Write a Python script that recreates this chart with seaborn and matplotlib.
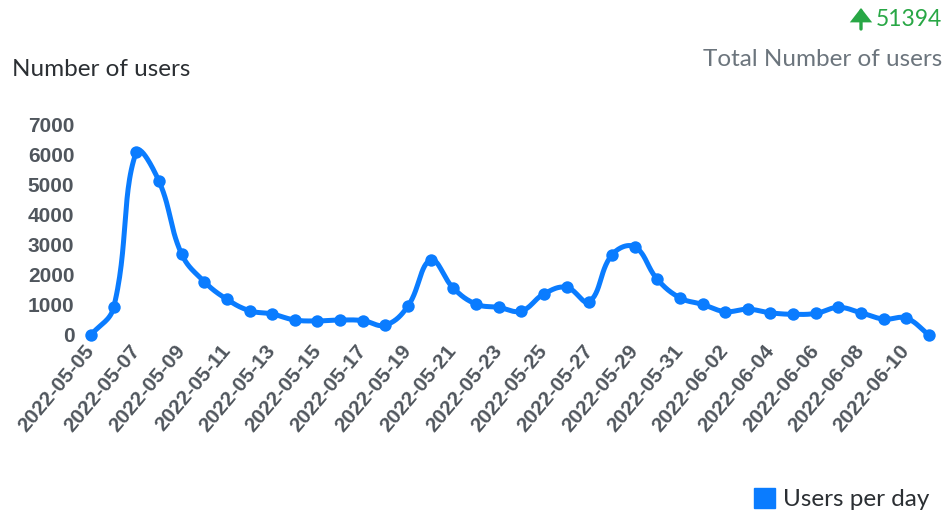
import numpy as np
import pandas as pd
import matplotlib
matplotlib.use("Agg")
import matplotlib.pyplot as plt
from matplotlib.patches import Patch, FancyArrowPatch
import seaborn as sns

# ---- data ----
dates = pd.date_range("2022-05-05", "2022-06-11", freq="D").strftime("%Y-%m-%d").tolist()
users = [0, 920, 6100, 5130, 2700, 1780, 1190, 810, 700, 500,
         470, 500, 480, 330, 970, 2500, 1560, 1030, 920, 800,
         1370, 1590, 1110, 2670, 2940, 1860, 1240, 1020, 780, 860,
         740, 690, 720, 920, 740, 530, 560, 0]
total_users = "51394"
title_left = "Number of users"
title_right = "Total Number of users"
legend_label = "Users per day"
y_ticks = [0, 1000, 2000, 3000, 4000, 5000, 6000, 7000]

LINE = "#0a7cff"
TICK = "#50565d"
GREEN = "#28a745"

sns.set_theme(style="white")
plt.rcParams["font.family"] = ["Liberation Sans", "DejaVu Sans"]

W, H = 946, 517
fig = plt.figure(figsize=(W / 100, H / 100), dpi=100)
left, right, top, bottom = 91, 929, 125, 335
ax = fig.add_axes([left / W, 1 - bottom / H, (right - left) / W, (bottom - top) / H])

x = np.arange(len(users), dtype=float)
y = np.array(users, dtype=float)
ax.set_xlim(0, len(users) - 1)
ax.set_ylim(0, 7000)

# Chart.js-like bezier smoothing (tension 0.4), computed in pixel space
sx = (right - left) / (len(users) - 1)
sy = (bottom - top) / 7000.0
px, py = x * sx, y * sy
n = len(px)
cpp = np.zeros((n, 2)); cpn = np.zeros((n, 2))
t = 0.4
for i in range(n):
    p0 = np.array([px[max(i - 1, 0)], py[max(i - 1, 0)]])
    p1 = np.array([px[i], py[i]])
    p2 = np.array([px[min(i + 1, n - 1)], py[min(i + 1, n - 1)]])
    d01 = np.hypot(*(p1 - p0)); d12 = np.hypot(*(p2 - p1))
    tot = d01 + d12
    s01 = d01 / tot if tot else 0
    s12 = d12 / tot if tot else 0
    cpp[i] = p1 - t * s01 * (p2 - p0)
    cpn[i] = p1 + t * s12 * (p2 - p0)
cpp[:, 1] = np.clip(cpp[:, 1], 0, 7000 * sy)
cpn[:, 1] = np.clip(cpn[:, 1], 0, 7000 * sy)
cx, cy = [], []
tt = np.linspace(0, 1, 30)
for i in range(n - 1):
    P0 = np.array([px[i], py[i]]); P3 = np.array([px[i + 1], py[i + 1]])
    P1 = cpn[i]; P2 = cpp[i + 1]
    pts = ((1 - tt) ** 3)[:, None] * P0 + (3 * (1 - tt) ** 2 * tt)[:, None] * P1 \
        + (3 * (1 - tt) * tt ** 2)[:, None] * P2 + (tt ** 3)[:, None] * P3
    cx.extend(pts[:, 0] / sx); cy.extend(pts[:, 1] / sy)

curve = pd.DataFrame({"x": cx, "y": cy})
sns.lineplot(data=curve, x="x", y="y", sort=False, estimator=None, ax=ax,
             color=LINE, linewidth=3.6, solid_capstyle="round")
sns.scatterplot(x=x, y=y, ax=ax, color=LINE, s=80, edgecolor=LINE, linewidth=0,
                zorder=5, clip_on=False)
for l in ax.lines:
    l.set_clip_on(False)

for s in ax.spines.values():
    s.set_visible(False)
ax.set_xlabel(""); ax.set_ylabel("")
ax.set_yticks(y_ticks)
ax.set_yticklabels([str(v) for v in y_ticks], fontsize=15, fontweight="bold", color=TICK)
ax.set_xticks(x[::2])
ax.set_xticklabels(dates[::2], fontsize=15, fontweight="bold", color=TICK,
                   rotation=50, ha="right", va="center", rotation_mode="anchor")
ax.tick_params(axis="y", length=0, pad=12)
ax.tick_params(axis="x", length=0, pad=9)
ax.grid(False)

tf = ["Lato", "DejaVu Sans"]
fig.text(12 / W, 1 - 70 / H, title_left, fontsize=17.5, color="#2b2f33", family=tf,
         ha="left", va="center")
fig.text(942 / W, 1 - 60 / H, title_right, fontsize=17.5, color="#6c757d", family=tf,
         ha="right", va="center")
fig.text(942 / W, 1 - 19 / H, total_users, fontsize=16.5, color=GREEN, family=tf,
         ha="right", va="center")
arrow = FancyArrowPatch((861 / W, 1 - 29 / H), (861 / W, 1 - 8 / H),
                        transform=fig.transFigure,
                        arrowstyle="-|>,head_width=0.28,head_length=0.36",
                        mutation_scale=20, color=GREEN, lw=2.4, shrinkA=0, shrinkB=0,
                        joinstyle="miter")
fig.add_artist(arrow)

leg = fig.legend(handles=[Patch(facecolor=LINE, edgecolor=LINE, label=legend_label)],
                 loc="center right", bbox_to_anchor=(951 / W, 1 - 499 / H), frameon=False,
                 handlelength=0.9, handleheight=0.9, handletextpad=0.3,
                 prop={"family": tf, "size": 17.5})
for txt in leg.get_texts():
    txt.set_color("#2b2f33")

fig.savefig("out.png", dpi=100)
